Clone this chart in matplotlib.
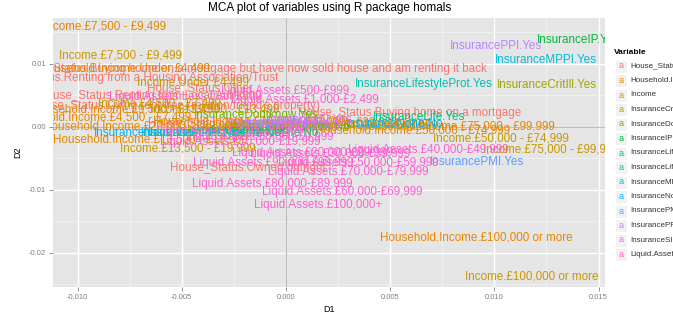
import matplotlib
matplotlib.use("Agg")
import matplotlib.pyplot as plt
from matplotlib.patches import Rectangle

plt.rcParams['font.family'] = ['Liberation Sans', 'DejaVu Sans']

# ---------------- data ----------------
variables = ["House_Status", "Household.Income", "Income", "InsuranceCritIll",
             "InsuranceDontknow", "InsuranceIP", "InsuranceLife",
             "InsuranceLifestyleProt", "InsuranceMPPI", "InsuranceNone",
             "InsurancePMI", "InsurancePPI", "InsuranceSI", "Liquid.Assets"]
palette = ["#F8766D", "#E58700", "#C99800", "#A3A500", "#6BB100", "#00BA38",
           "#00BF7D", "#00C0AF", "#00BCD8", "#00B0F6", "#619CFF", "#B983FF",
           "#E76BF3", "#FD61D1"]

house_levels = ["Buying home on a mortgage but have now sold house and am renting it back",
                "Renting from a Housing Association/Trust", "Other",
                "Renting from Local Authority",
                "Living rent free (relation/friend's property)",
                "Buying home on a mortgage", "Owned outright", "Renting privately"]
house_d1 = [-0.00173, -0.00734, -0.00413, -0.00653, -0.00533, 0.00595, -0.00182, -0.00269]
house_d2 = [0.00921, 0.00778, 0.00619, 0.00492, 0.00333, 0.00222, -0.00651, 0.00048]

hhinc_levels = ["£7,500 - £9,499", "Under £4,499", "£4,500 - £7,499", "£9,500 - £13,499",
                "£13,500 - £19,999", "£20,000 - £29,999", "£30,000 - £39,999",
                "£40,000 - £49,999", "£50,000 - £74,999", "£75,000 - £99,999",
                "£100,000 or more"]
hhinc_d1 = [-0.01012, -0.00773, -0.00893, -0.00773, -0.00653, -0.00700, -0.00173,
            0.00211, 0.00605, 0.00821, 0.00912]
hhinc_d2 = [0.01603, 0.00921, 0.00143, 0.00270, -0.00206, 0.00000, 0.00095,
            0.00032, -0.00048, 0.00000, -0.01762]

inc_levels = ["£7,500 - £9,499", "Under £4,499", "£4,500 - £7,499", "£9,500 - £13,499",
              "£13,500 - £19,999", "£20,000 - £29,999", "£30,000 - £39,999",
              "£40,000 - £49,999", "£50,000 - £74,999", "£75,000 - £99,999",
              "£100,000 or more"]
inc_d1 = [-0.00792, -0.00446, -0.00605, -0.00341, -0.00470, -0.00077, 0.00211,
          0.00403, 0.01032, 0.01272, 0.01180]
inc_d2 = [0.01127, 0.00714, 0.00365, 0.00270, -0.00349, -0.00016, 0.00079,
          0.00016, -0.00175, -0.00365, -0.02381]

ins_levels = ["Yes", "No"]
critill_d1 = [0.01252, -0.00245]
critill_d2 = [0.00667, -0.00063]
dontknow_d1 = [-0.00144, 0.00019]
dontknow_d2 = [0.00190, 0.00000]
ip_d1 = [0.01401, -0.00173]
ip_d2 = [0.01381, -0.00063]
life_d1 = [0.00638, -0.00053]
life_d2 = [0.00159, -0.00095]
lifestyle_d1 = [0.00662, -0.00341]
lifestyle_d2 = [0.00683, -0.00095]
mppi_d1 = [0.01248, -0.00461]
mppi_d2 = [0.01063, -0.00095]
none_d1 = [-0.00677, 0.00523]
none_d2 = [-0.00095, 0.00048]
pmi_d1 = [0.00917, -0.00005]
pmi_d2 = [-0.00556, 0.00048]
ppi_d1 = [0.01008, -0.00077]
ppi_d2 = [0.01286, 0.00063]
si_d1 = [0.00115, 0.00067]
si_d2 = [0.00111, 0.00016]

liq_levels = ["Less than £500", "£500-£999", "£1,000-£2,499", "£2,500-£4,999",
              "£5,000-£9,999", "£10,000-£19,999", "£20,000-£29,999",
              "£30,000-£39,999", "£40,000-£49,999", "£50,000-£59,999",
              "£60,000-£69,999", "£70,000-£79,999", "£80,000-£89,999",
              "£90,000-£99,999", "£100,000+"]
liq_d1 = [-0.00485, -0.00005, 0.00091, -0.00269, -0.00125, -0.00221, 0.00125,
          0.00211, 0.00681, 0.00345, 0.00269, 0.00298, -0.00067, -0.00062, 0.00154]
liq_d2 = [0.00476, 0.00571, 0.00429, -0.00063, -0.00159, -0.00238, -0.00413,
          -0.00429, -0.00365, -0.00571, -0.01032, -0.00714, -0.00905, -0.00571, -0.01238]

x_ticks = [-0.010, -0.005, 0.000, 0.005, 0.010, 0.015]
x_ticklabels = ["-0.010", "-0.005", "0.000", "0.005", "0.010", "0.015"]
y_ticks = [-0.02, -0.01, 0.00, 0.01]
y_ticklabels = ["-0.02", "-0.01", "0.00", "0.01"]

groups = [
    ("House_Status", house_levels, house_d1, house_d2),
    ("Household.Income", hhinc_levels, hhinc_d1, hhinc_d2),
    ("Income", inc_levels, inc_d1, inc_d2),
    ("InsuranceCritIll", ins_levels, critill_d1, critill_d2),
    ("InsuranceDontknow", ins_levels, dontknow_d1, dontknow_d2),
    ("InsuranceIP", ins_levels, ip_d1, ip_d2),
    ("InsuranceLife", ins_levels, life_d1, life_d2),
    ("InsuranceLifestyleProt", ins_levels, lifestyle_d1, lifestyle_d2),
    ("InsuranceMPPI", ins_levels, mppi_d1, mppi_d2),
    ("InsuranceNone", ins_levels, none_d1, none_d2),
    ("InsurancePMI", ins_levels, pmi_d1, pmi_d2),
    ("InsurancePPI", ins_levels, ppi_d1, ppi_d2),
    ("InsuranceSI", ins_levels, si_d1, si_d2),
    ("Liquid.Assets", liq_levels, liq_d1, liq_d2),
]

# ---------------- figure ----------------
W, H = 673, 318
fig = plt.figure(figsize=(W / 100, H / 100), dpi=100)
ax = fig.add_axes([53 / W, 31 / H, 552 / W, 269 / H])
ax.set_facecolor('#E5E5E5')
ax.set_xlim(-0.01118, 0.01531)
ax.set_ylim(-0.0254, 0.0173)
ax.set_xticks(x_ticks)
ax.set_xticklabels(x_ticklabels)
ax.set_yticks(y_ticks)
ax.set_yticklabels(y_ticklabels)
ax.set_xticks([-0.0075, -0.0025, 0.0025, 0.0075, 0.0125], minor=True)
ax.set_yticks([-0.025, -0.015, -0.005, 0.005, 0.015], minor=True)
ax.grid(which='major', color='white', lw=1.0)
ax.grid(which='minor', color='#F2F2F2', lw=0.6)
ax.set_axisbelow(True)
for s in ax.spines.values():
    s.set_visible(False)
ax.tick_params(which='major', length=3, width=0.6, color='#7F7F7F',
               labelcolor='#7F7F7F', labelsize=5.5, pad=2)
ax.tick_params(which='minor', length=0)
ax.axvline(0, color='#BEBEBE', lw=0.9, zorder=1.5)
ax.axhline(0, color='#BEBEBE', lw=0.9, zorder=1.5)

for var, levels, d1, d2 in groups:
    col = palette[variables.index(var)]
    for lvl, x, y in zip(levels, d1, d2):
        ax.text(x, y, f"{var}.{lvl}", color=col, fontsize=8.4,
                ha='center', va='center', clip_on=True)

ax.set_xlabel("D1", fontsize=6.5, labelpad=3)
ax.set_ylabel("D2", fontsize=6.5, labelpad=5)

fig.text(330 / W, 1 - 8 / H, "MCA plot of variables using R package homals",
         ha='center', va='center', fontsize=8.5)

# legend (cut by the right edge as in the original)
fig.text(614 / W, 1 - 52 / H, "Variable", ha='left', va='center',
         fontsize=6.0, fontweight='bold')
for i, (var, col) in enumerate(zip(variables, palette)):
    yc = 66 + i * 14.5
    fig.patches.append(Rectangle(((621 - 6) / W, 1 - (yc + 6.5) / H), 12 / W, 13 / H,
                                 transform=fig.transFigure, facecolor='#F2F2F2',
                                 edgecolor='white', lw=0.8))
    fig.text(621 / W, 1 - yc / H, "a", color=col, ha='center', va='center', fontsize=6.5)
    fig.text(630 / W, 1 - yc / H, var, ha='left', va='center', fontsize=5.8,
             color='#333333')

fig.savefig("out.png", dpi=100)
